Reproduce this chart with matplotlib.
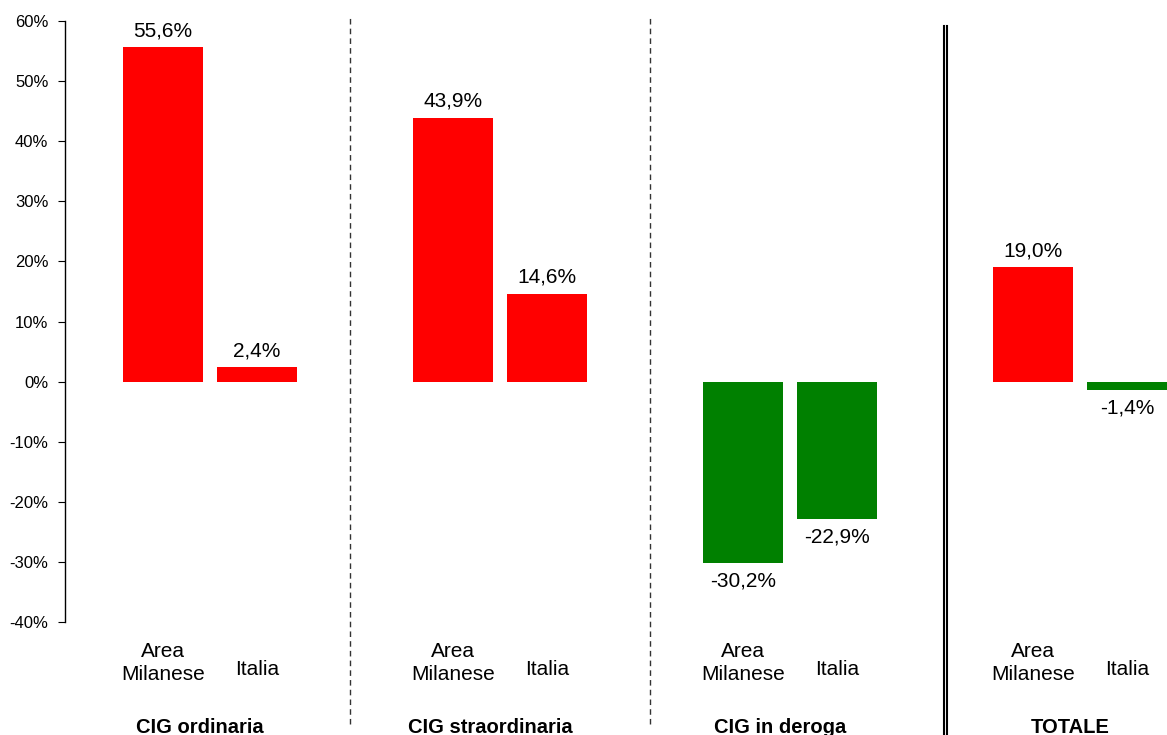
import matplotlib
matplotlib.use('agg')
import matplotlib.pyplot as plt
from matplotlib.ticker import FuncFormatter

plt.rcParams['font.family'] = ['Liberation Sans', 'DejaVu Sans']

groups = ['CIG ordinaria', 'CIG straordinaria', 'CIG in deroga', 'TOTALE']
areas = ['Area\nMilanese', 'Italia']
area_milanese = [55.6, 43.9, -30.2, 19.0]
italia = [2.4, 14.6, -22.9, -1.4]

fig = plt.figure(figsize=(11.67, 7.35), dpi=100)
ax = fig.add_axes([65 / 1167, 113 / 735, 1102 / 1167, 601 / 735])

step = 3.0
offset = 0.975
width = 0.825
x_am = [1.01 + step * i for i in range(len(groups))]
x_it = [x + offset for x in x_am]

def colour(v):
    return '#FF0000' if v >= 0 else '#008000'

def fmt(v):
    return ('%.1f%%' % v).replace('.', ',')

for xs, vals in [(x_am, area_milanese), (x_it, italia)]:
    bars = ax.bar(xs, vals, width=width, color=[colour(v) for v in vals])
    for b, v in zip(bars, vals):
        ax.annotate(fmt(v), (b.get_x() + b.get_width() / 2, v),
                    xytext=(0, 5 if v >= 0 else -6), textcoords='offset points',
                    ha='center', va='bottom' if v >= 0 else 'top', fontsize=15)

ax.set_xlim(0, 11.4)
ax.set_ylim(-40, 60)
ax.set_yticks(range(-40, 61, 10))
ax.yaxis.set_major_formatter(FuncFormatter(lambda v, p: '%d%%' % v))
ax.tick_params(axis='y', direction='out', length=5, labelsize=12, pad=7)
ax.set_xticks([])
for s in ['top', 'right', 'bottom']:
    ax.spines[s].set_visible(False)
ax.spines['left'].set_linewidth(1)

# category labels under each bar, group titles below
for i, g in enumerate(groups):
    ax.text(x_am[i], -46.8, areas[0], ha='center', va='center', fontsize=15, linespacing=1.25)
    ax.text(x_it[i], -47.9, areas[1], ha='center', va='center', fontsize=15)
    ax.text((x_am[i] + x_it[i]) / 2 - 0.1, -57.5, g, ha='center', va='center',
            fontsize=14.5, fontweight='bold')

# separators between groups
for xs in [2.95, 6.05]:
    ax.axvline(xs, ymin=-0.17, ymax=1.01, color='#333333', lw=1,
               ls=(0, (4, 3)), clip_on=False)
for xs in [9.09, 9.12]:
    ax.axvline(xs, ymin=-0.19, ymax=0.992, color='black', lw=1.5, clip_on=False)

plt.savefig('out.png', dpi=100)
